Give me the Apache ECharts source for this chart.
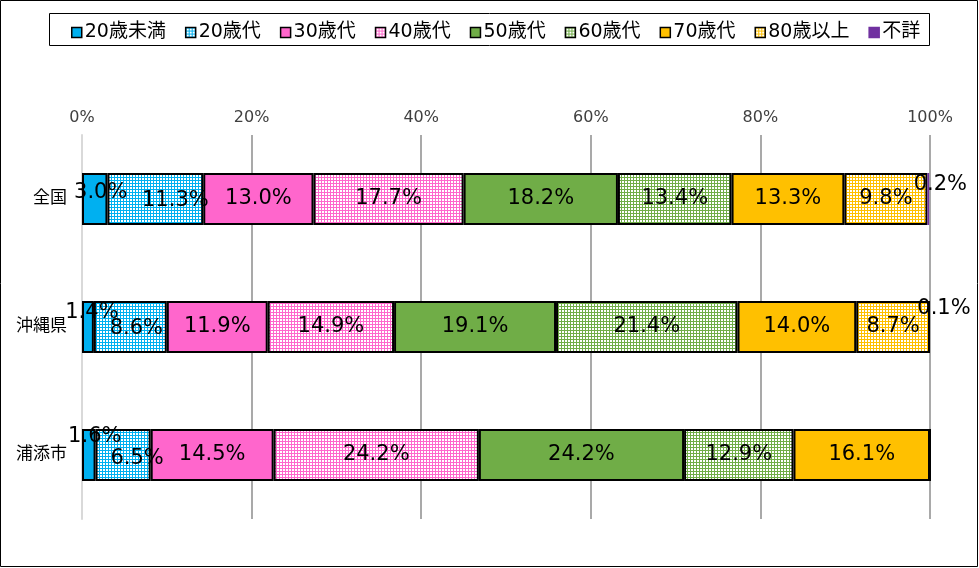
<!DOCTYPE html>
<html><head><meta charset="utf-8">
<script src="https://cdn.jsdelivr.net/npm/echarts@6/dist/echarts.min.js"></script>
<style>html,body{margin:0;padding:0;background:#fff}#c{width:979px;height:568px}</style>
</head><body><div id="c"></div>
<script>
const categories = ['全国', '沖縄県', '浦添市'];
const seriesNames = ['20歳未満', '20歳代', '30歳代', '40歳代', '50歳代', '60歳代', '70歳代', '80歳以上', '不詳'];
const v_u20 = [3.0, 1.4, 1.6];
const v_20s = [11.3, 8.6, 6.5];
const v_30s = [13.0, 11.9, 14.5];
const v_40s = [17.7, 14.9, 24.2];
const v_50s = [18.2, 19.1, 24.2];
const v_60s = [13.4, 21.4, 12.9];
const v_70s = [13.3, 14.0, 16.1];
const v_80p = [9.8, 8.7, 0];
const v_unk = [0.2, 0.1, 0];
const xTicks = [0, 20, 40, 60, 80, 100];

const values = [v_u20, v_20s, v_30s, v_40s, v_50s, v_60s, v_70s, v_80p, v_unk];
const baseColors = ['#00B0F0', '#00B0F0', '#FF66CC', '#FF66CC', '#70AD47', '#70AD47', '#FFC000', '#FFC000', '#7030A0'];
const patterned = [false, true, false, true, false, true, false, true, false];
const FONT = "'DejaVu Sans', 'Noto Sans CJK JP', sans-serif";

function makePattern(col) {
  const c = document.createElement('canvas');
  c.width = 3; c.height = 3;
  const ctx = c.getContext('2d');
  ctx.fillStyle = col; ctx.fillRect(0, 0, 3, 3);
  ctx.fillStyle = '#ffffff'; ctx.fillRect(1, 1, 2, 2);
  return { image: c, repeat: 'repeat' };
}

// label offsets for small segments [series-category]
const offsets = {
  '0-0': [6, -6], '0-1': [4, -14], '0-2': [6, -18],
  '1-0': [20, 2], '1-1': [6, 2], '1-2': [14, 4],
  '8-0': [12, -14], '8-1': [14, -18]
};

const chart = echarts.init(document.getElementById('c'));
const series = seriesNames.map((name, si) => ({
  name: name,
  type: 'bar',
  stack: 'total',
  barWidth: 52,
  itemStyle: {
    color: patterned[si] ? makePattern(baseColors[si]) : baseColors[si],
    borderColor: '#000',
    borderWidth: si === 8 ? 0 : 2
  },
  label: {
    show: true,
    position: 'inside',
    color: '#000',
    fontSize: 21,
    fontFamily: FONT,
    formatter: p => p.value > 0 ? p.value.toFixed(1) + '%' : ''
  },
  data: values[si].map((v, ci) => {
    const o = offsets[si + '-' + ci];
    const d = { value: v };
    if (o) d.label = { offset: o };
    return d;
  })
}));

chart.setOption({
  animation: false,
  textStyle: { fontFamily: FONT },
  graphic: [
    { type: 'rect', shape: { x: 0.5, y: 0.5, width: 977, height: 566 }, style: { fill: null, stroke: '#000', lineWidth: 1 }, z: 100 },
    { type: 'rect', shape: { x: 49.5, y: 13.5, width: 880, height: 32 }, style: { fill: null, stroke: '#000', lineWidth: 1 }, z: 100 }
  ],
  legend: {
    top: 18,
    left: 66,
    itemWidth: 10,
    itemHeight: 10,
    itemGap: 19,
    textStyle: { fontSize: 19, color: '#000', fontFamily: FONT, padding: [0, 0, 0, -2] },
    data: seriesNames.map((n, i) => ({
      name: n,
      icon: 'rect',
      itemStyle: { borderColor: i === 8 ? baseColors[i] : '#000', borderWidth: 1.5 }
    }))
  },
  grid: { left: 82, right: 49, top: 135, bottom: 49, containLabel: false },
  xAxis: {
    type: 'value',
    position: 'top',
    min: 0, max: 100, interval: 20,
    axisLine: { show: false },
    axisTick: { show: false },
    axisLabel: { formatter: v => xTicks.includes(v) ? v + '%' : '', fontSize: 16, color: '#404040', margin: 9 },
    splitLine: { show: true, lineStyle: { color: '#8c8c8c', width: 1.5 } }
  },
  yAxis: {
    type: 'category',
    inverse: true,
    data: categories,
    axisLine: { show: true, lineStyle: { color: '#d9d9d9', width: 2 } },
    axisTick: { show: false },
    axisLabel: { fontSize: 17, color: '#000', margin: 15 }
  },
  series: series
});
</script></body></html>
